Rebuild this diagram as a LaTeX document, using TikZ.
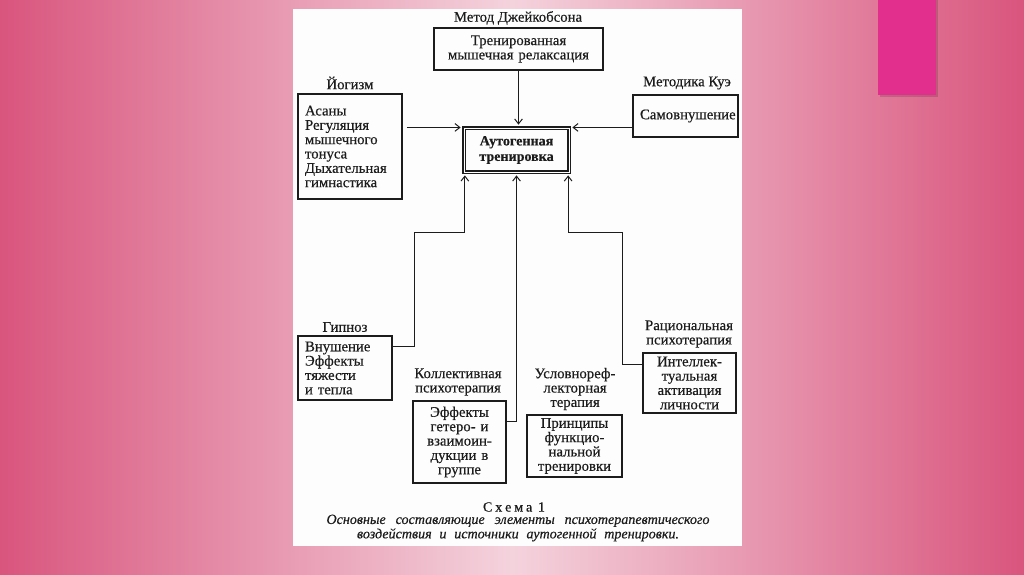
\documentclass[tikz,border=0pt]{standalone}
\usepackage{fontspec}
\setmainfont[FakeBold=0.4]{Liberation Serif}
\usepackage{xcolor}
\usetikzlibrary{positioning,arrows.meta,calc}
\definecolor{SlideEdge}{HTML}{D9557E}
\definecolor{SlideGlow}{HTML}{F4D3DD}
\definecolor{TabMagenta}{HTML}{E22E8D}
\definecolor{PageWhite}{HTML}{FDFDFD}
\definecolor{InkText}{HTML}{1C1C1C}
\newcommand{\px}{0.025cm}
\newcommand{\schemebox}[6]{\node[box,minimum width=#3*\px,minimum height=#4*\px,text width=#3*\px-14*\px,align=#5] (#1) at (#2) {#6};}
\newcommand{\spread}[2]{\makebox[\dimexpr\px*#1\relax][s]{#2}}
\tikzset{
  box/.style={draw=InkText,line width=0.8pt,inner sep=0pt,text=InkText},
  lbl/.style={text=InkText,align=center,inner sep=0pt},
  arr/.style={draw=InkText,line width=0.7pt,-{Straight Barb[length=3.5pt,width=5.5pt]},shorten >=2pt}
}

\begin{document}
\begin{tikzpicture}[x=0.025cm,y=-0.025cm,font=\fontsize{10.5}{10.2}\selectfont]
  % slide background
  \shade[left color=SlideEdge,right color=SlideEdge,middle color=SlideGlow] (0,0) rectangle (1024,574);
  \useasboundingbox (0,0) rectangle (1024,574);
  \fill[black,opacity=0.15] (880,0) rectangle (938,97);
  \fill[TabMagenta] (878,0) rectangle (936,95);
  \fill[PageWhite] (293,9) rectangle (742,546);

  % boxes
  \schemebox{jac}{518.5,49}{169}{42}{center}{Тренированная\\мышечная релаксация}
  \schemebox{yoga}{350,146.5}{104}{105}{left}{Асаны\\Регуляция\\мышечного\\тонуса\\Дыхательная\\гимнастика}
  \schemebox{kue}{685.5,116}{105}{42}{center}{Самовнушение}
  \node[box,double,double distance=0.6pt,minimum width=105*\px,minimum height=44*\px,align=center,font=\fontsize{10}{11}\selectfont\bfseries] (auto) at (516.5,150) {Аутогенная\\тренировка};
  \schemebox{gip}{345,368}{94}{64}{left}{Внушение\\Эффекты\\тяжести\\и тепла}
  \schemebox{coll}{459.5,442}{93}{82}{center}{Эффекты\\гетеро- и\\взаимоин-\\дукции в\\группе}
  \schemebox{princ}{574.5,446}{95}{62}{center}{Принципы\\функцио-\\нальной\\тренировки}
  \schemebox{rat}{689.5,383}{93}{60}{center}{Интеллек-\\туальная\\активация\\личности}

  % source labels
  \node[lbl] (jacl) at (518,18) {Метод Джейкобсона};
  \node[lbl] (yogal) at (350,83) {Йогизм};
  \node[lbl] (kuel) at (687,83) {Методика Куэ};
  \node[lbl] (gipl) at (345,327) {Гипноз};
  \node[lbl] (ratl) at (689,334) {Рациональная\\психотерапия};
  \node[lbl] (colll) at (458,382) {Коллективная\\психотерапия};
  \node[lbl] (princl) at (575,389) {Условнореф-\\лекторная\\терапия};

  % caption
  \node[lbl,font=\fontsize{10}{10}\selectfont] (capt) at (514,507) {\spread{62}{С\hfill х\hfill е\hfill м\hfill а\hfill\hfill 1}};
  \node[lbl,font=\fontsize{10}{8.6}\selectfont\itshape] (capb) at (518,528) {\spread{383}{Основные составляющие элементы психотерапевтического}\\\spread{322}{воздействия и источники аутогенной тренировки.}};

  % connectors
  \coordinate (lbend) at (414,232);
  \coordinate (rbend) at (622,232);
  \draw[arr] (jac.south) -- (jac.south |- auto.north);
  \draw[arr,shorten <=3pt] (yoga.east |- auto.north) -- (auto.north west);
  \draw[arr] (kue.west |- auto.north) -- (auto.north east);
  \draw[arr] ($(gip.north east)+(0,11)$) -| (lbend) -| ([xshift=1pt]auto.south west);
  \draw[arr] ($(coll.north east)+(0,21)$) -| (auto.south);
  \draw[arr] ($(rat.north west)+(0,12)$) -| (rbend) -| ([xshift=-1pt]auto.south east);
\end{tikzpicture}
\end{document}
